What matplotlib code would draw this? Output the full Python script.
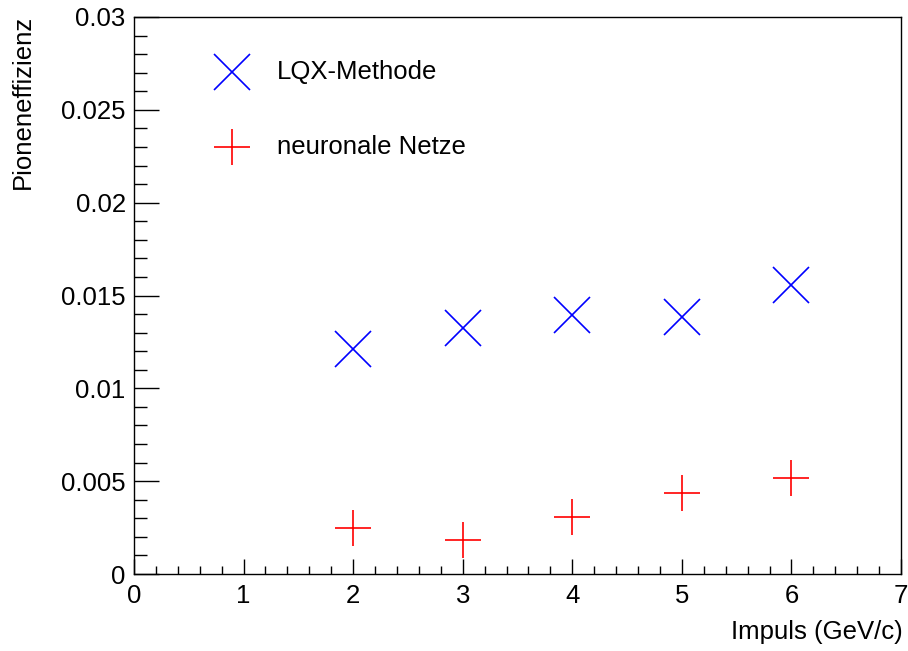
import matplotlib
matplotlib.use("Agg")
import matplotlib.pyplot as plt
from matplotlib.ticker import MultipleLocator

plt.rcParams['font.family'] = ['Liberation Sans', 'DejaVu Sans']

momentum = [2, 3, 4, 5, 6]
lqx_eff = [0.01210, 0.01323, 0.01395, 0.01385, 0.01557]
nn_eff = [0.00249, 0.00183, 0.00309, 0.00438, 0.00519]
labels = ["LQX-Methode", "neuronale Netze"]

fs = 18.5
fig = plt.figure(figsize=(9.08, 6.51), dpi=100)
ax = fig.add_axes([134/908, 1-574/651, 767/908, 557/651])

ms = 26
ax.plot(momentum, lqx_eff, linestyle='none', marker='x', markersize=ms,
        markeredgewidth=1.2, color='#0000ff')
ax.plot(momentum, nn_eff, linestyle='none', marker='+', markersize=ms,
        markeredgewidth=1.2, color='#ff0000')

ax.set_xlim(0, 7)
ax.set_ylim(0, 0.03)
ax.xaxis.set_major_locator(MultipleLocator(1))
ax.xaxis.set_minor_locator(MultipleLocator(0.2))
ax.yaxis.set_major_locator(MultipleLocator(0.005))
ax.yaxis.set_minor_locator(MultipleLocator(0.001))
ax.yaxis.set_major_formatter(matplotlib.ticker.FuncFormatter(
    lambda v, p: "0" if abs(v) < 1e-12 else ("%g" % v)))

ax.tick_params(axis='x', which='major', direction='in', length=11, width=1,
               labelsize=fs, pad=7)
ax.tick_params(axis='x', which='minor', direction='in', length=5.5, width=1)
ax.tick_params(axis='y', which='major', direction='in', length=18, width=1,
               labelsize=fs, pad=6)
ax.tick_params(axis='y', which='minor', direction='in', length=9, width=1)
ax.tick_params(top=False, right=False, which='both')
for s in ax.spines.values():
    s.set_linewidth(1)

# legend entries
leg_y = [0.9018, 0.7671]
ax.plot([0.1274], [leg_y[0]], transform=ax.transAxes, marker='x', markersize=ms,
        markeredgewidth=1.2, color='#0000ff', linestyle='none', clip_on=False)
ax.plot([0.1274], [leg_y[1]], transform=ax.transAxes, marker='+', markersize=ms,
        markeredgewidth=1.2, color='#ff0000', linestyle='none', clip_on=False)
for yy, lab in zip(leg_y, labels):
    ax.text(0.186, yy, lab, transform=ax.transAxes, fontsize=fs,
            ha='left', va='center')

fig.text(23/908, 1-15/651, "Pioneneffizienz", rotation=90, fontsize=fs,
         ha='center', va='top')
fig.text(903/908, 1-632/651, "Impuls (GeV/c)", fontsize=fs,
         ha='right', va='center')

fig.savefig("out.png", dpi=100)
